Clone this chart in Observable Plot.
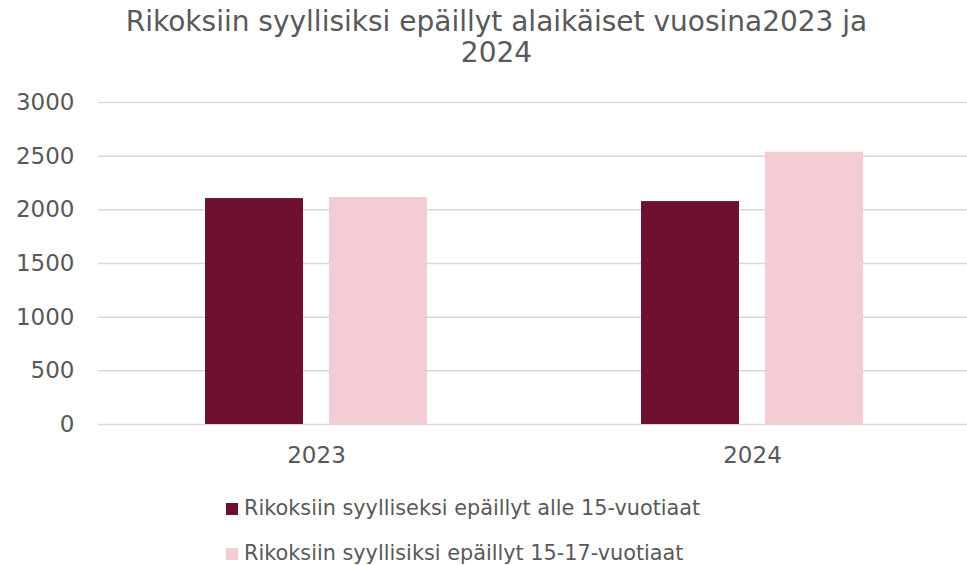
<!DOCTYPE html>
<html>
<head>
<meta charset="utf-8">
<script src="https://cdn.jsdelivr.net/npm/d3@7"></script>
<script src="https://cdn.jsdelivr.net/npm/@observablehq/plot@0.6"></script>
<style>
  body { margin: 0; background: #fff; font-family: "DejaVu Sans", Verdana, sans-serif; color: #595959; }
  #wrap { width: 967px; position: relative; }
  #title { height: 80px; box-sizing: border-box; padding-top: 6px; padding-left: 26px; text-align: center; font-size: 28px; line-height: 31px; color: #595959; }
  #legend { margin-top: 6px; padding-left: 226px; font-size: 20.8px; }
  .row { height: 45px; line-height: 45px; display: flex; align-items: center; }
  .sw { width: 12px; height: 12px; margin-right: 6px; display: inline-block; }
</style>
</head>
<body>
<div id="wrap">
  <div id="title">Rikoksiin syyllisiksi epäillyt alaikäiset vuosina2023 ja<br>2024</div>
  <div id="chart"></div>
  <div id="legend"></div>
</div>
<script>
const years = ["2023", "2024"];
const series = ["Rikoksiin syylliseksi epäillyt alle 15-vuotiaat", "Rikoksiin syyllisiksi epäillyt 15-17-vuotiaat"];
const under15 = [2105, 2077];
const age15to17 = [2115, 2537];
const colors = ["#6d112f", "#f3ccd4"];
const yTicks = [0, 500, 1000, 1500, 2000, 2500, 3000];

const data = [];
years.forEach((yr, i) => {
  data.push({year: yr, series: series[0], value: under15[i]});
  data.push({year: yr, series: series[1], value: age15to17[i]});
});

const chart = Plot.plot({
  width: 967,
  height: 400,
  marginTop: 22,
  marginBottom: 56,
  marginLeft: 97,
  marginRight: -3,
  style: {fontFamily: "DejaVu Sans, Verdana, sans-serif", fontSize: "23px", color: "#595959", background: "transparent", overflow: "visible"},
  fx: {domain: years, padding: 0, label: null},
  x: {domain: series, paddingInner: 0.209, paddingOuter: 0.857, axis: null},
  y: {domain: [0, 3000], label: null},
  color: {domain: series, range: colors},
  marks: [
    Plot.gridY(yTicks, {stroke: "#d9d9d9", strokeOpacity: 1, strokeWidth: 1.5}),
    Plot.barY(data, {fx: "year", x: "series", y: "value", fill: "series"}),
    Plot.axisY({ticks: yTicks, tickFormat: d => String(d), tickSize: 0, tickPadding: 24, fontSize: 23, label: null}),
    Plot.axisFx({anchor: "bottom", tickSize: 0, tickPadding: 22, fontSize: 23, label: null})
  ]
});
document.getElementById("chart").appendChild(chart);

const legend = document.getElementById("legend");
series.forEach((s, i) => {
  const row = document.createElement("div");
  row.className = "row";
  const sw = document.createElement("span");
  sw.className = "sw";
  sw.style.background = colors[i];
  const t = document.createElement("span");
  t.textContent = s;
  row.appendChild(sw);
  row.appendChild(t);
  legend.appendChild(row);
});
</script>
</body>
</html>
